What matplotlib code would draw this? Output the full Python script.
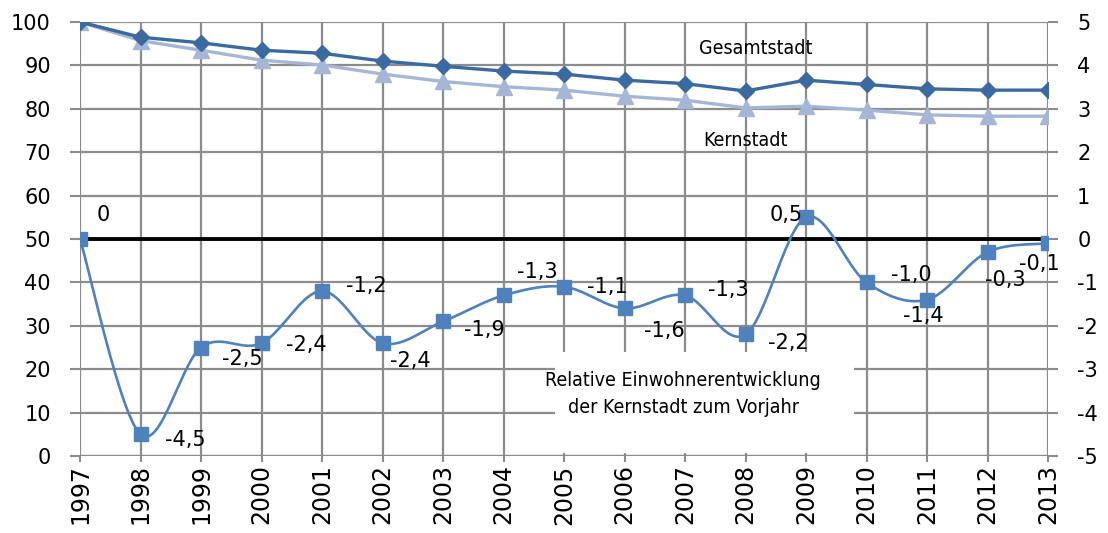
import matplotlib
matplotlib.use("Agg")
import matplotlib.pyplot as plt
import numpy as np
from matplotlib.patches import Rectangle

plt.rcParams['axes.unicode_minus'] = False
plt.rcParams['font.family'] = ['DejaVu Sans']

years = list(range(1997, 2014))
gesamtstadt = [100, 96.5, 95.2, 93.5, 92.8, 91.0, 89.8, 88.7, 88.0, 86.6, 85.8, 84.1, 86.6, 85.6, 84.6, 84.3, 84.3]
kernstadt = [100, 95.7, 93.5, 91.2, 90.1, 88.0, 86.3, 85.1, 84.3, 82.9, 82.0, 80.2, 80.6, 79.7, 78.6, 78.3, 78.3]
relativ = [0, -4.5, -2.5, -2.4, -1.2, -2.4, -1.9, -1.3, -1.1, -1.6, -1.3, -2.2, 0.5, -1.0, -1.4, -0.3, -0.1]
rel_labels = ["0", "-4,5", "-2,5", "-2,4", "-1,2", "-2,4", "-1,9", "-1,3", "-1,1", "-1,6",
              "-1,3", "-2,2", "0,5", "-1,0", "-1,4", "-0,3", "-0,1"]
label_offsets = [(17, 17), (32, -4), (30, -8), (32, -1), (32, 4), (20, -13), (30, -6), (24, 17),
                 (31, 0), (29, -16), (31, 4), (31, -6), (-14, 2), (32, 5), (-3, -12), (13, -20), (-6, -15)]

c_ges = '#3B6AA0'
c_kern = '#A5B6D6'
c_rel = '#4F81BD'
c_grid = '#8C8C8C'

def smooth(xs, ys, n=30):
    xs = np.asarray(xs, float); ys = np.asarray(ys, float)
    P = np.column_stack([xs, ys])
    out = []
    for i in range(len(P) - 1):
        p0 = P[i - 1] if i > 0 else P[i]
        p1 = P[i]; p2 = P[i + 1]
        p3 = P[i + 2] if i + 2 < len(P) else P[i + 1]
        c1 = p1 + (p2 - p0) / 6.0
        c2 = p2 - (p3 - p1) / 6.0
        t = np.linspace(0, 1, n)[:, None]
        seg = (1 - t) ** 3 * p1 + 3 * (1 - t) ** 2 * t * c1 + 3 * (1 - t) * t ** 2 * c2 + t ** 3 * p2
        out.append(seg if i == 0 else seg[1:])
    s = np.vstack(out)
    return s[:, 0], s[:, 1]

fig = plt.figure(figsize=(11.08, 5.33), dpi=100)
ax = fig.add_axes([80 / 1108, 1 - 456 / 533, 968 / 1108, 434 / 533])
ax2 = ax.twinx()

ax.set_xlim(1997, 2013)
ax.set_ylim(0, 100)
ax2.set_ylim(-5, 5)

ax.set_axisbelow(True)
ax.set_xticks(years)
ax.set_xticklabels([str(y) for y in years], rotation=90, fontsize=17)
ax.set_yticks(range(0, 101, 10))
ax.tick_params(axis='y', labelsize=15, length=7, color=c_grid, width=1.5, pad=14)
ax.tick_params(axis='x', length=4, color=c_grid, width=1.5, pad=2)
ax.grid(True, color=c_grid, linewidth=1.6)
for s in ax.spines.values():
    s.set_visible(False)
for s in ax2.spines.values():
    s.set_visible(False)
ax.axhline(0, color=c_grid, linewidth=1.6, zorder=1)

ax2.set_yticks(range(-5, 6))
ax2.tick_params(axis='y', labelsize=15, length=7, color=c_grid, width=1.5, pad=14)

ax.add_patch(Rectangle((2004.85, 0.8), 4.95, 23.2, facecolor='white', edgecolor='none', zorder=1))

ax.plot(years, kernstadt, color=c_kern, linewidth=2.4, marker='^', markersize=11, zorder=3)
ax.plot(years, gesamtstadt, color=c_ges, linewidth=2.4, marker='D', markersize=8.5, zorder=4)

ax2.axhline(0, color='black', linewidth=2.8, zorder=2)
sx, sy = smooth(years, relativ)
ax2.plot(sx, sy, color=c_rel, linewidth=1.9, zorder=3)
ax2.plot(years, relativ, linestyle='none', marker='s', markersize=10, color=c_rel, zorder=4)
for x, y, lab, off in zip(years, relativ, rel_labels, label_offsets):
    ax2.annotate(lab, (x, y), xytext=off, textcoords='offset points', fontsize=15,
                 ha='center', va='center', zorder=5)

ax.text(2008.17, 94.0, 'Gesamtstadt', fontsize=14, fontstretch='condensed', ha='center', va='center')
ax.text(2008.0, 72.8, 'Kernstadt', fontsize=14, fontstretch='condensed', ha='center', va='center')
ax.text(2006.97, 14.3, 'Relative Einwohnerentwicklung\nder Kernstadt zum Vorjahr', fontsize=14,
        fontstretch='condensed', ha='center', va='center', linespacing=1.55, zorder=2)

fig.savefig('out.png', dpi=100)
